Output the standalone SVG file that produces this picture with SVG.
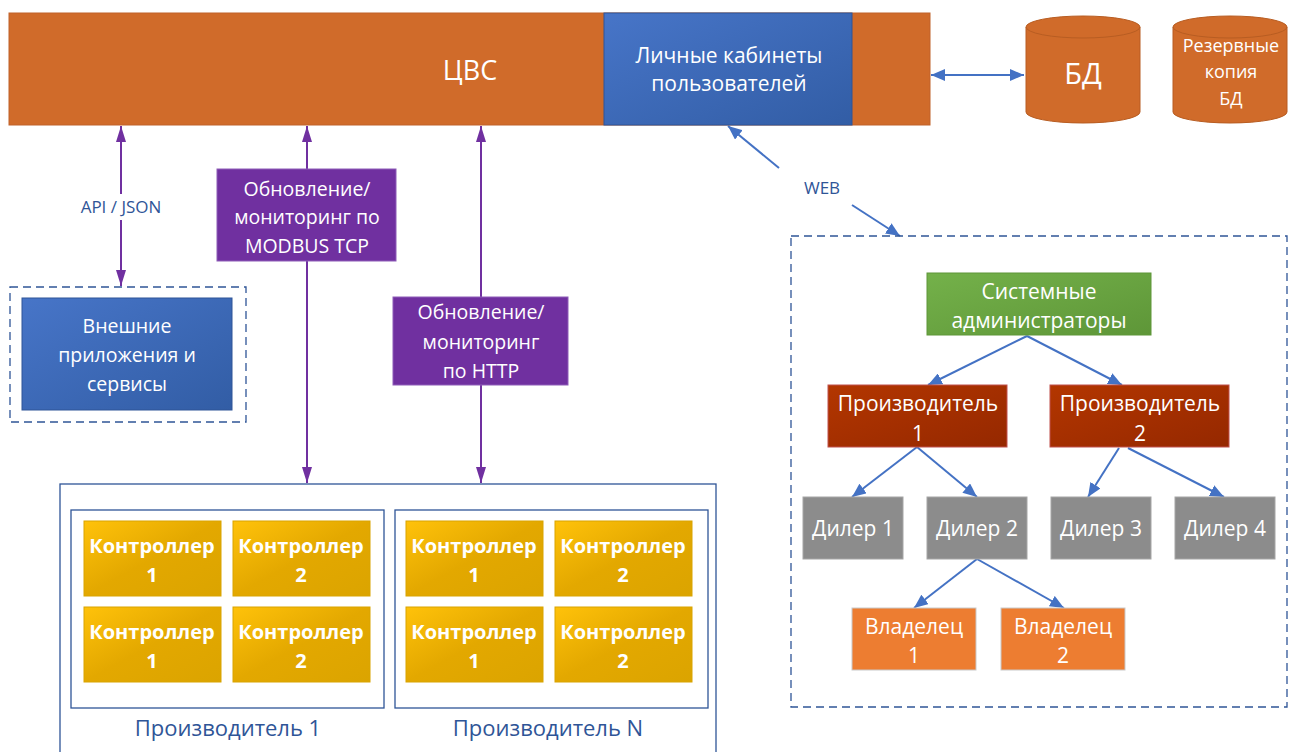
<svg xmlns="http://www.w3.org/2000/svg" width="1291" height="752" viewBox="0 0 1291 752">
<defs>
<linearGradient id="gBlue" x1="0" y1="0" x2="1" y2="1"><stop offset="0" stop-color="#4775C8"/><stop offset="1" stop-color="#325DA5"/></linearGradient>
<linearGradient id="gGold" x1="0" y1="0" x2="1" y2="1"><stop offset="0" stop-color="#FFC20A"/><stop offset="0.5" stop-color="#E3A800"/><stop offset="1" stop-color="#DBA400"/></linearGradient>
<linearGradient id="gRed" x1="0" y1="0" x2="1" y2="1"><stop offset="0" stop-color="#B33600"/><stop offset="1" stop-color="#952800"/></linearGradient>
<linearGradient id="gGreen" x1="0" y1="0" x2="1" y2="1"><stop offset="0" stop-color="#74B14A"/><stop offset="1" stop-color="#5E9638"/></linearGradient>
<marker id="aP" viewBox="0 0 16 10" refX="16" refY="5" markerUnits="userSpaceOnUse" markerWidth="16" markerHeight="10" orient="auto-start-reverse"><path d="M0,0 L16,5 L0,10 z" fill="#7030A0"/></marker>
<marker id="aB" viewBox="0 0 14 12" refX="14" refY="6" markerUnits="userSpaceOnUse" markerWidth="14" markerHeight="12" orient="auto-start-reverse"><path d="M0,0 L14,6 L0,12 z" fill="#4472C4"/></marker>
</defs>
<style>
text{font-family:"Open Sans","Liberation Sans",sans-serif;fill:#fff;text-anchor:middle}
.t21{font-size:21px}
.t19{font-size:19.5px}
.b{font-weight:bold;font-size:20px}
.lbl{fill:#2F5597;font-size:17px}
.glbl{fill:#2F5597;font-size:22px}
.pl{stroke:#7030A0;stroke-width:2;fill:none}
.bl{stroke:#4472C4;stroke-width:2;fill:none}
.dash{fill:none;stroke:#2F5597;stroke-width:1.3;stroke-dasharray:8 5}
.frame{fill:#fff;stroke:#2F5597;stroke-width:1.3}
.ctl{fill:url(#gGold);stroke:#D9A400;stroke-width:1}
.dl{fill:#8C8C8C;stroke:#A6A6A6;stroke-width:1}
.ow{fill:#ED7D31;stroke:#C9C9C9;stroke-width:1}
.pr{fill:url(#gRed);stroke:#C0504D;stroke-width:1}
.pu{fill:#7030A0;stroke:#8E5CB8;stroke-width:1}
.cyl{fill:#D06B2A;stroke:#B85D22;stroke-width:1}
</style>

<g id="connectors">
<line class="pl" x1="121" y1="126" x2="121" y2="194" marker-start="url(#aP)"/>
<line class="pl" x1="121" y1="220" x2="121" y2="286" marker-end="url(#aP)"/>
<line class="pl" x1="307" y1="126" x2="307" y2="483" marker-start="url(#aP)" marker-end="url(#aP)"/>
<line class="pl" x1="481" y1="126" x2="481" y2="483" marker-start="url(#aP)" marker-end="url(#aP)"/>
<line class="bl" x1="931" y1="75" x2="1024" y2="75" marker-start="url(#aB)" marker-end="url(#aB)"/>
<line class="bl" x1="779" y1="168" x2="728" y2="126" marker-end="url(#aB)"/>
<line class="bl" x1="852" y1="205" x2="900" y2="236" marker-end="url(#aB)"/>
<line class="bl" x1="1027" y1="336" x2="928" y2="385" marker-end="url(#aB)"/>
<line class="bl" x1="1027" y1="336" x2="1122" y2="385" marker-end="url(#aB)"/>
<line class="bl" x1="917" y1="447" x2="852" y2="497" marker-end="url(#aB)"/>
<line class="bl" x1="917" y1="447" x2="977" y2="497" marker-end="url(#aB)"/>
<line class="bl" x1="1119" y1="448" x2="1088" y2="497" marker-end="url(#aB)"/>
<line class="bl" x1="1128" y1="448" x2="1224" y2="497" marker-end="url(#aB)"/>
<line class="bl" x1="977" y1="559" x2="914" y2="608" marker-end="url(#aB)"/>
<line class="bl" x1="977" y1="559" x2="1064" y2="608" marker-end="url(#aB)"/>
<text class="lbl" x="121" y="213">API / JSON</text>
<text class="lbl" x="822" y="194">WEB</text>
</g>

<g id="cvs">
<rect x="9" y="13" width="921" height="112" fill="#D06B2A" stroke="#C0622A" stroke-width="1"/>
<text x="470" y="80" font-size="27">ЦВС</text>
</g>
<g id="cabinets">
<rect x="604" y="13" width="248" height="112" fill="url(#gBlue)" stroke="#2F5597" stroke-width="1"/>
<text class="t21" x="729" y="63">Личные кабинеты</text>
<text class="t21" x="729" y="91">пользователей</text>
</g>

<g id="db">
<path class="cyl" d="M1026,27 A57,11 0 0 1 1140,27 V112 A57,11 0 0 1 1026,112 Z"/>
<path d="M1026,27 A57,11 0 0 0 1140,27" fill="none" stroke="#B85D22" stroke-width="1"/>
<text x="1083" y="84" font-size="29">БД</text>
</g>
<g id="db-backup">
<path class="cyl" d="M1173,27 A57,11 0 0 1 1287,27 V112 A57,11 0 0 1 1173,112 Z"/>
<path d="M1173,27 A57,11 0 0 0 1287,27" fill="none" stroke="#B85D22" stroke-width="1"/>
<text x="1231" y="52" font-size="18">Резервные</text>
<text x="1231" y="78" font-size="18">копия</text>
<text x="1231" y="105" font-size="18">БД</text>
</g>

<g id="modbus">
<rect class="pu" x="217" y="169" width="179" height="92"/>
<text class="t19" x="307" y="196">Обновление/</text>
<text class="t19" x="307" y="224">мониторинг по</text>
<text class="t19" x="307" y="253">MODBUS TCP</text>
</g>
<g id="http">
<rect class="pu" x="393" y="297" width="175" height="88"/>
<text class="t19" x="481" y="319">Обновление/</text>
<text class="t19" x="481" y="349">мониторинг</text>
<text class="t19" x="481" y="378">по HTTP</text>
</g>

<g id="external">
<rect class="dash" x="10" y="287" width="236" height="135"/>
<rect x="22" y="298" width="210" height="112" fill="url(#gBlue)" stroke="#2F5597" stroke-width="1"/>
<text class="t19" x="127" y="333">Внешние</text>
<text class="t19" x="127" y="362">приложения и</text>
<text class="t19" x="127" y="391">сервисы</text>
</g>

<g id="producers-container">
<rect class="frame" x="60" y="484" width="656" height="280"/>
</g>
<g id="producer-1">
<rect class="frame" x="71" y="510" width="313" height="198"/>
<text class="glbl" x="228" y="736">Производитель 1</text>
<rect class="ctl" x="84" y="521" width="137" height="75"/>
<text class="b" x="152" y="553">Контроллер</text><text class="b" x="152" y="582">1</text>
<rect class="ctl" x="233" y="521" width="137" height="75"/>
<text class="b" x="301" y="553">Контроллер</text><text class="b" x="301" y="582">2</text>
<rect class="ctl" x="84" y="607" width="137" height="75"/>
<text class="b" x="152" y="639">Контроллер</text><text class="b" x="152" y="668">1</text>
<rect class="ctl" x="233" y="607" width="137" height="75"/>
<text class="b" x="301" y="639">Контроллер</text><text class="b" x="301" y="668">2</text>
</g>
<g id="producer-n">
<rect class="frame" x="395" y="510" width="313" height="198"/>
<text class="glbl" x="548" y="736">Производитель N</text>
<rect class="ctl" x="406" y="521" width="137" height="75"/>
<text class="b" x="474" y="553">Контроллер</text><text class="b" x="474" y="582">1</text>
<rect class="ctl" x="555" y="521" width="137" height="75"/>
<text class="b" x="623" y="553">Контроллер</text><text class="b" x="623" y="582">2</text>
<rect class="ctl" x="406" y="607" width="137" height="75"/>
<text class="b" x="474" y="639">Контроллер</text><text class="b" x="474" y="668">1</text>
<rect class="ctl" x="555" y="607" width="137" height="75"/>
<text class="b" x="623" y="639">Контроллер</text><text class="b" x="623" y="668">2</text>
</g>

<g id="web-users">
<rect class="dash" x="791" y="236" width="496" height="471"/>
</g>
<g id="sysadmins">
<rect x="927" y="273" width="224" height="62" fill="url(#gGreen)" stroke="#5E9638" stroke-width="1"/>
<text class="t21" x="1039" y="299">Системные</text>
<text class="t21" x="1039" y="328">администраторы</text>
</g>
<g id="vendor-1">
<rect class="pr" x="828" y="385" width="179" height="62"/>
<text class="t21" x="918" y="411">Производитель</text>
<text class="t21" x="918" y="441">1</text>
</g>
<g id="vendor-2">
<rect class="pr" x="1050" y="385" width="179" height="62"/>
<text class="t21" x="1140" y="411">Производитель</text>
<text class="t21" x="1140" y="441">2</text>
</g>
<g id="dealer-1"><rect class="dl" x="803" y="497" width="100" height="62"/><text class="t21" x="853" y="536">Дилер 1</text></g>
<g id="dealer-2"><rect class="dl" x="927" y="497" width="100" height="62"/><text class="t21" x="977" y="536">Дилер 2</text></g>
<g id="dealer-3"><rect class="dl" x="1051" y="497" width="100" height="62"/><text class="t21" x="1101" y="536">Дилер 3</text></g>
<g id="dealer-4"><rect class="dl" x="1175" y="497" width="100" height="62"/><text class="t21" x="1225" y="536">Дилер 4</text></g>
<g id="owner-1">
<rect class="ow" x="852" y="608" width="124" height="62"/>
<text class="t21" x="914" y="634">Владелец</text>
<text class="t21" x="914" y="663">1</text>
</g>
<g id="owner-2">
<rect class="ow" x="1001" y="608" width="124" height="62"/>
<text class="t21" x="1063" y="634">Владелец</text>
<text class="t21" x="1063" y="663">2</text>
</g>
</svg>
